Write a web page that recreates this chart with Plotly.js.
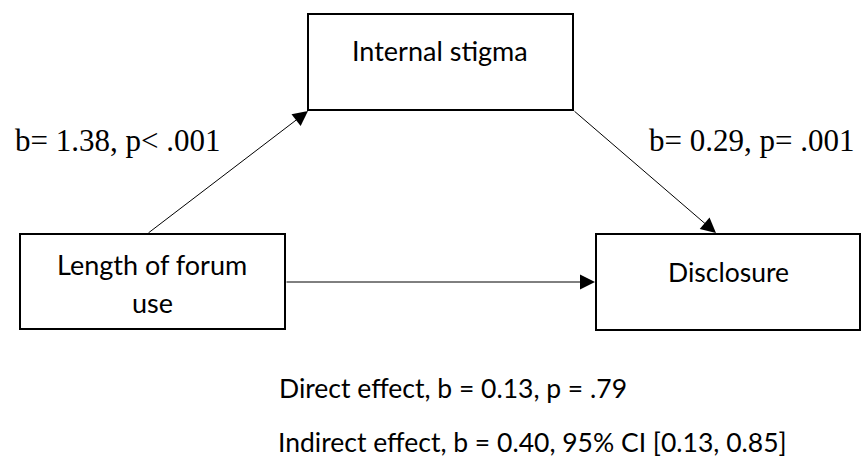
<!DOCTYPE html>
<html>
<head>
<meta charset="utf-8">
<script src="https://cdn.plot.ly/plotly-3.0.1.min.js"></script>
<style>html,body{margin:0;padding:0;background:#fff;}#chart{width:861px;height:459px;}</style>
</head>
<body>
<div id="chart"></div>
<script>
// ---- data ----
const nodeLabels = ["Internal stigma", "Length of forum", "use", "Disclosure"];
const pathA = {b: "1.38", p: "< .001"};
const pathB = {b: "0.29", p: "= .001"};
const directEffect = {b: "0.13", p: ".79"};
const indirectEffect = {b: "0.40", ciLow: "0.13", ciHigh: "0.85"};

// ---- layout geometry (pixel space, y down) ----
const boxes = [
  {x0: 308, x1: 573, y0: 14, y1: 110},
  {x0: 20, x1: 285, y0: 234, y1: 329},
  {x0: 596, x1: 860, y0: 234, y1: 330}
];
const labelPos = [
  {x: 440, y: 50, size: 27},
  {x: 152, y: 264, size: 27},
  {x: 152, y: 302, size: 27},
  {x: 728, y: 272, size: 26.5}
];

const sans = "Lato, 'Open Sans', sans-serif";
const serif = "'Liberation Serif', 'Times New Roman', serif";

const shapes = boxes.map(b => ({
  type: "rect", xref: "x", yref: "y", x0: b.x0, x1: b.x1, y0: b.y0, y1: b.y1,
  line: {color: "#000", width: 2}, fillcolor: "rgba(0,0,0,0)"
}));

const annotations = [];
nodeLabels.forEach((t, i) => annotations.push({
  x: labelPos[i].x, y: labelPos[i].y, xref: "x", yref: "y", text: t, showarrow: false,
  font: {family: sans, size: labelPos[i].size, color: "#000"}, align: "center"
}));

function arrow(x0, y0, x1, y1) {
  return {x: x1, y: y1, ax: x0, ay: y0, xref: "x", yref: "y", axref: "x", ayref: "y",
    text: "", showarrow: true, arrowhead: 2, arrowsize: 3, arrowwidth: 1, arrowcolor: "#000",
    standoff: 0, startstandoff: 0};
}
annotations.push(arrow(147, 234, 308, 111));
annotations.push(arrow(573, 110, 716, 233));
annotations.push(arrow(285, 282, 595, 282));

annotations.push({x: 13, y: 140, xref: "x", yref: "y", xanchor: "left", showarrow: false,
  text: "b= " + pathA.b + ", p" + pathA.p.replace("<", "&lt;"), font: {family: serif, size: 31, color: "#000"}});
annotations.push({x: 856, y: 140, xref: "x", yref: "y", xanchor: "right", showarrow: false,
  text: "b= " + pathB.b + ", p" + pathB.p, font: {family: serif, size: 31, color: "#000"}});

annotations.push({x: 277, y: 388, xref: "x", yref: "y", xanchor: "left", showarrow: false,
  text: "Direct effect, b = " + directEffect.b + ", p = " + directEffect.p,
  font: {family: sans, size: 26.5, color: "#000"}});
annotations.push({x: 277, y: 442, xref: "x", yref: "y", xanchor: "left", showarrow: false, borderpad: 0,
  text: "Indirect effect, b = " + indirectEffect.b + ", 95% CI [" + indirectEffect.ciLow + ", " + indirectEffect.ciHigh + "]",
  font: {family: sans, size: 26.5, color: "#000"}});

const layout = {
  width: 861, height: 459,
  margin: {l: 0, r: 0, t: 0, b: 0},
  paper_bgcolor: "#fff", plot_bgcolor: "#fff",
  xaxis: {range: [0, 861], visible: false, fixedrange: true},
  yaxis: {range: [459, 0], visible: false, fixedrange: true},
  showlegend: false,
  shapes: shapes,
  annotations: annotations
};

Plotly.newPlot("chart", [{x: [], y: [], type: "scatter", mode: "markers", hoverinfo: "skip"}], layout,
  {displayModeBar: false, staticPlot: true});
</script>
</body>
</html>
